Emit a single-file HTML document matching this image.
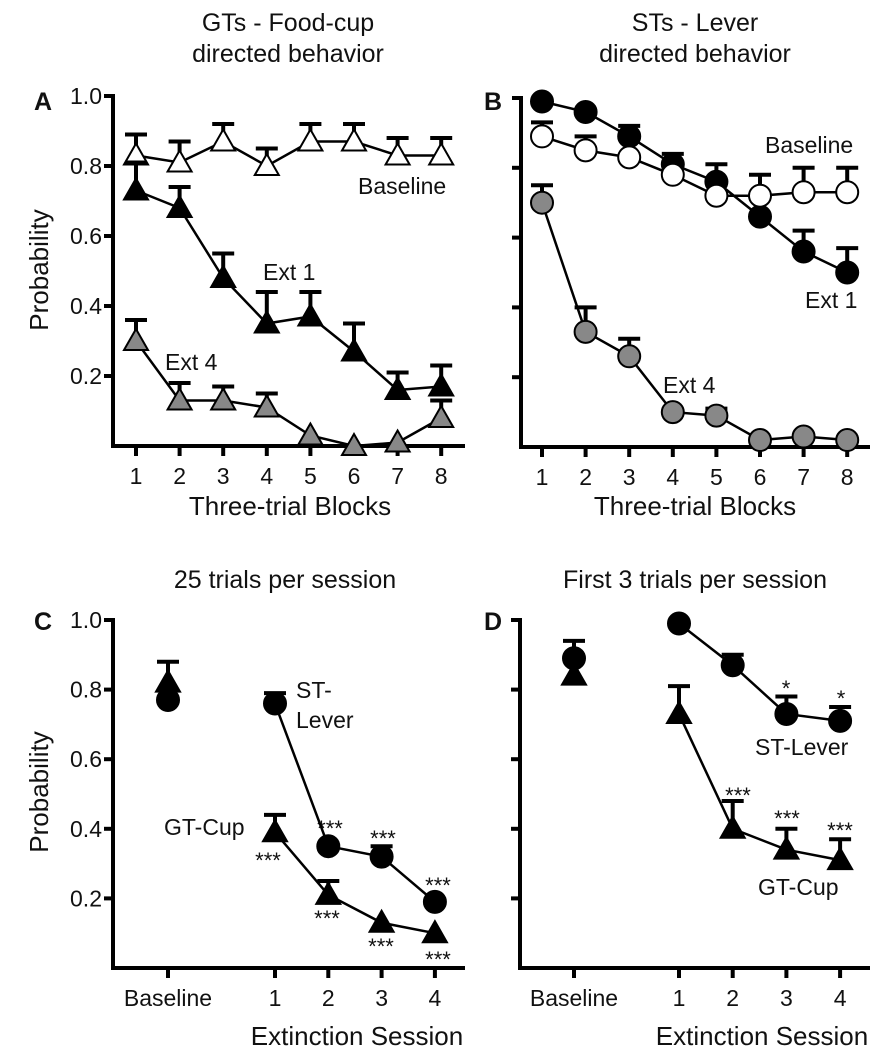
<!DOCTYPE html>
<html><head><meta charset="utf-8"><style>
html,body{margin:0;padding:0;background:#fff;}
svg{display:block;font-family:"Liberation Sans",Arial,sans-serif;}
</style></head><body>
<svg id="fig" width="886" height="1050" viewBox="0 0 886 1050" xmlns="http://www.w3.org/2000/svg">
<g font-size="25" text-anchor="middle" fill="#111">
<text x="288" y="31">GTs - Food-cup</text>
<text x="288" y="62">directed behavior</text>
<text x="695" y="31">STs - Lever</text>
<text x="695" y="62">directed behavior</text>
<text x="285" y="588">25 trials per session</text>
<text x="695" y="588">First 3 trials per session</text>
</g>
<g font-size="25" font-weight="bold" fill="#111">
<text x="34" y="110">A</text>
<text x="484" y="110">B</text>
<text x="34" y="630">C</text>
<text x="484" y="630">D</text>
</g>
<g font-size="26" fill="#111" text-anchor="middle">
<text transform="translate(48,270) rotate(-90)">Probability</text>
<text transform="translate(48,792) rotate(-90)">Probability</text>
<text x="290" y="515">Three-trial Blocks</text>
<text x="695" y="515">Three-trial Blocks</text>
<text x="357" y="1045">Extinction Session</text>
<text x="762" y="1045">Extinction Session</text>
</g>
<g font-size="23" fill="#111">
<text x="358" y="194">Baseline</text>
<text x="263" y="280">Ext 1</text>
<text x="165" y="370">Ext 4</text>
<text x="765" y="153">Baseline</text>
<text x="805" y="308">Ext 1</text>
<text x="663" y="393">Ext 4</text>
<text x="296" y="698">ST-</text>
<text x="296" y="728">Lever</text>
<text x="164" y="835">GT-Cup</text>
<text x="755" y="755">ST-Lever</text>
<text x="758" y="895">GT-Cup</text>
</g>
<g font-size="22" fill="#111" text-anchor="middle">
<text x="268" y="868">***</text>
<text x="330" y="836">***</text>
<text x="383" y="846">***</text>
<text x="438" y="893">***</text>
<text x="327" y="926">***</text>
<text x="381" y="954">***</text>
<text x="438" y="967">***</text>
<text x="786" y="696">*</text>
<text x="841" y="706">*</text>
<text x="738" y="803">***</text>
<text x="787" y="826">***</text>
<text x="840" y="838">***</text>
</g>
</svg>
<script>
// Panel A (GT food-cup, triangles)
const blocks = [1,2,3,4,5,6,7,8];
const aBaseline = [0.83,0.81,0.87,0.80,0.87,0.87,0.83,0.83];
const aBaselineErr = [0.06,0.06,0.05,0.05,0.05,0.05,0.05,0.05];
const aExt1 = [0.73,0.68,0.48,0.35,0.37,0.27,0.16,0.17];
const aExt1Err = [0.08,0.06,0.07,0.09,0.07,0.08,0.05,0.06];
const aExt4 = [0.30,0.13,0.13,0.11,0.03,0.00,0.01,0.08];
const aExt4Err = [0.06,0.05,0.04,0.04,0,0,0,0.05];
// Panel B (ST lever, circles)
const bBaseline = [0.89,0.85,0.83,0.78,0.72,0.72,0.73,0.73];
const bBaselineErr = [0.04,0.04,0,0.03,0,0.06,0.07,0.07];
const bExt1 = [0.99,0.96,0.89,0.81,0.76,0.66,0.56,0.50];
const bExt1Err = [0,0,0.03,0.03,0.05,0,0.06,0.07];
const bExt4 = [0.70,0.33,0.26,0.10,0.09,0.02,0.03,0.02];
const bExt4Err = [0.05,0.07,0.05,0,0.02,0,0,0];
// Panels C/D
const sessions = ["Baseline","1","2","3","4"];
const cSt = [0.77,0.76,0.35,0.32,0.19];
const cStErr = [0,0.03,0,0.03,0];
const cGt = [0.82,0.39,0.21,0.13,0.10];
const cGtErr = [0.06,0.05,0.04,0,0];
const dSt = [0.89,0.99,0.87,0.73,0.71];
const dStErr = [0.05,0,0.03,0.05,0.04];
const dGt = [0.84,0.73,0.40,0.34,0.31];
const dGtErr = [0,0.08,0.08,0.06,0.06];
const yTicks = [1.0,0.8,0.6,0.4,0.2];
const yTickLabels = ["1.0","0.8","0.6","0.4","0.2"];

const NS = "http://www.w3.org/2000/svg";
const svg = document.getElementById('fig');
function mk(tag, attrs, parent){
  const e = document.createElementNS(NS, tag);
  for (const k in attrs) e.setAttribute(k, attrs[k]);
  (parent||svg).appendChild(e);
  return e;
}
function panel(name, ax, yTop, yZero, xEnd, showLabels){
  const g = mk('g', {});
  
  
  const yl = mk('line', {x1:ax, y1:yTop-2, x2:ax, y2:yZero+2, stroke:'#000','stroke-width':4}, g);
  
  
  const xl = mk('line', {x1:ax-2, y1:yZero, x2:xEnd, y2:yZero, stroke:'#000','stroke-width':4}, g);
  
  
  yTicks.forEach((v,i)=>{
    const y = yZero - v*(yZero-yTop);
    const t = mk('line', {x1:ax-9, y1:y, x2:ax, y2:y, stroke:'#000','stroke-width':4}, g);
    
    
    if (showLabels){
      const tx = mk('text', {x:ax-11, y:y+8, 'font-size':23, 'text-anchor':'end', fill:'#111'}, g);
      tx.textContent = yTickLabels[i];
      
      
    }
  });
  return v => yZero - v*(yZero-yTop);
}
function xTick(name, x, yZero, label){
  const t = mk('line', {x1:x, y1:yZero, x2:x, y2:yZero+10, stroke:'#000','stroke-width':4});
  
  
  const tx = mk('text', {x:x, y:yZero+38, 'font-size':23, 'text-anchor':'middle', fill:'#111'});
  tx.textContent = label;
  
  
}
function series(name, xs, vals, errs, ys, shape, fill, connectFrom){
  const g = mk('g', {});
  
  
  vals.forEach((v,i)=>{
    if (errs[i] > 0){
      const x = xs[i], y0 = ys(v), y1 = ys(v+errs[i]);
      const e = mk('path', {d:`M${x},${y0} L${x},${y1} M${x-11},${y1} L${x+11},${y1}`, stroke:'#000','stroke-width':4, fill:'none'}, g);
      
      
    }
  });
  const pts = [];
  for (let i=connectFrom;i<vals.length;i++) pts.push(xs[i]+','+ys(vals[i]));
  const l = mk('polyline', {points:pts.join(' '), fill:'none', stroke:'#000','stroke-width':2.5}, g);
  
  
  vals.forEach((v,i)=>{
    const x = xs[i], y = ys(v);
    let m;
    if (shape==='tri'){
      m = mk('polygon', {points:`${x},${y-12} ${x-12},${y+9} ${x+12},${y+9}`, fill:fill, stroke:'#000','stroke-width':2}, g);
    } else {
      m = mk('circle', {cx:x, cy:y, r:11, fill:fill, stroke:'#000','stroke-width':2}, g);
    }
    
    
  });
}
// Panel A
const yA = panel('panel-a', 113, 96, 446, 465, true);
const xA = blocks.map(b => 136 + (b-1)*43.6);
blocks.forEach((b,i)=>xTick('panel-a', xA[i], 446, String(b)));
series('a-baseline', xA, aBaseline, aBaselineErr, yA, 'tri', '#fff', 0);
series('a-ext1', xA, aExt1, aExt1Err, yA, 'tri', '#000', 0);
series('a-ext4', xA, aExt4, aExt4Err, yA, 'tri', '#888', 0);
// Panel B
const yB = panel('panel-b', 521, 98, 447, 870, false);
const xB = blocks.map(b => 542 + (b-1)*43.6);
blocks.forEach((b,i)=>xTick('panel-b', xB[i], 447, String(b)));
series('b-ext4', xB, bExt4, bExt4Err, yB, 'circ', '#888', 0);
series('b-ext1', xB, bExt1, bExt1Err, yB, 'circ', '#000', 0);
series('b-baseline', xB, bBaseline, bBaselineErr, yB, 'circ', '#fff', 0);
// Panel C
const yC = panel('panel-c', 113, 620, 968, 465, true);
const xC = sessions.map((s,i) => i===0 ? 168 : 275 + (i-1)*53.3);
sessions.forEach((s,i)=>xTick('panel-c', xC[i], 968, s));
series('c-gt-cup', xC, cGt, cGtErr, yC, 'tri', '#000', 1);
series('c-st-lever', xC, cSt, cStErr, yC, 'circ', '#000', 1);
// Panel D
const yD = panel('panel-d', 520, 620, 968, 870, false);
const xD = sessions.map((s,i) => i===0 ? 574 : 679 + (i-1)*53.7);
sessions.forEach((s,i)=>xTick('panel-d', xD[i], 968, s));
series('d-gt-cup', xD, dGt, dGtErr, yD, 'tri', '#000', 1);
series('d-st-lever', xD, dSt, dStErr, yD, 'circ', '#000', 1);
</script>
</body></html>
